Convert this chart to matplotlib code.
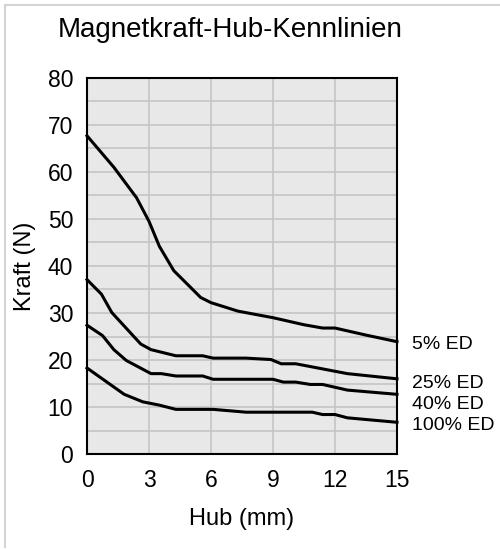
import matplotlib
matplotlib.use('Agg')
import matplotlib.pyplot as plt
from matplotlib.lines import Line2D

plt.rcParams['font.family'] = ['Liberation Sans', 'DejaVu Sans']

# curves: Hub (mm) -> Kraft (N)
hub_5 = [0, 1.3, 2.4, 3.0, 3.5, 4.2, 5.0, 5.5, 6.0, 7.3, 9.0, 10.5, 11.4, 12.0, 13.5, 15]
kraft_5 = [67.7, 61, 54.5, 49.5, 44.2, 39, 35.5, 33.3, 32.2, 30.4, 29.0, 27.5, 26.8, 26.8, 25.3, 23.9]

hub_25 = [0, 0.7, 1.2, 2.6, 3.1, 4.3, 5.6, 6.1, 7.7, 8.9, 9.4, 10.1, 12.6, 15]
kraft_25 = [37.1, 34.0, 30.1, 23.4, 22.2, 20.9, 20.9, 20.4, 20.4, 20.1, 19.2, 19.2, 17.1, 16.0]

hub_40 = [0, 0.75, 1.3, 1.9, 3.1, 3.6, 4.3, 5.6, 6.1, 9.0, 9.5, 10.1, 10.8, 11.4, 12.6, 15]
kraft_40 = [27.4, 25.2, 22.2, 19.9, 17.1, 17.1, 16.6, 16.6, 15.9, 15.9, 15.3, 15.3, 14.8, 14.8, 13.6, 12.7]

hub_100 = [0, 1.8, 2.7, 3.5, 4.3, 6.1, 7.7, 10.9, 11.4, 12.0, 12.6, 15]
kraft_100 = [18.3, 12.7, 11.1, 10.4, 9.5, 9.5, 8.9, 8.9, 8.4, 8.4, 7.7, 6.75]

curve_labels = ['5% ED', '25% ED', '40% ED', '100% ED']
label_y = [23.3, 15.1, 10.6, 6.0]

fig = plt.figure(figsize=(5, 5.49), dpi=100)
ax = fig.add_axes([0.174, 0.173, 0.62, 0.685])
ax.set_facecolor('#e8e8e8')

for hx, ky in [(hub_5, kraft_5), (hub_25, kraft_25), (hub_40, kraft_40), (hub_100, kraft_100)]:
    ax.plot(hx, ky, color='black', lw=2.2, solid_joinstyle='round', clip_on=False)

for lab, yy in zip(curve_labels, label_y):
    ax.text(15.75, yy, lab, fontsize=14, va='center', ha='left', clip_on=False)

ax.set_xlim(0, 15)
ax.set_ylim(0, 80)
ax.set_xticks([0, 3, 6, 9, 12, 15])
ax.set_yticks(range(0, 81, 10))
ax.set_yticks(range(5, 80, 10), minor=True)
ax.grid(True, which='both', color='#c4c4c4', lw=1.2)
ax.set_axisbelow(True)
ax.tick_params(which='both', length=0, labelsize=16.5)
ax.tick_params(axis='y', pad=10)
ax.tick_params(axis='x', pad=11)
for s in ax.spines.values():
    s.set_linewidth(1.5)
    s.set_color('black')

ax.set_xlabel('Hub (mm)', fontsize=17, labelpad=11)
ax.set_ylabel('Kraft (N)', fontsize=17, labelpad=8)

fig.text(0.46, 0.945, 'Magnetkraft-Hub-Kennlinien', fontsize=20, ha='center', va='center')

# light frame on left and top
fig.add_artist(Line2D([0.009, 0.009], [0.004, 0.991], color='#d4d4d4', lw=1.5))
fig.add_artist(Line2D([0.009, 1.0], [0.991, 0.991], color='#d4d4d4', lw=1.5))

fig.savefig('out.png', dpi=100)
